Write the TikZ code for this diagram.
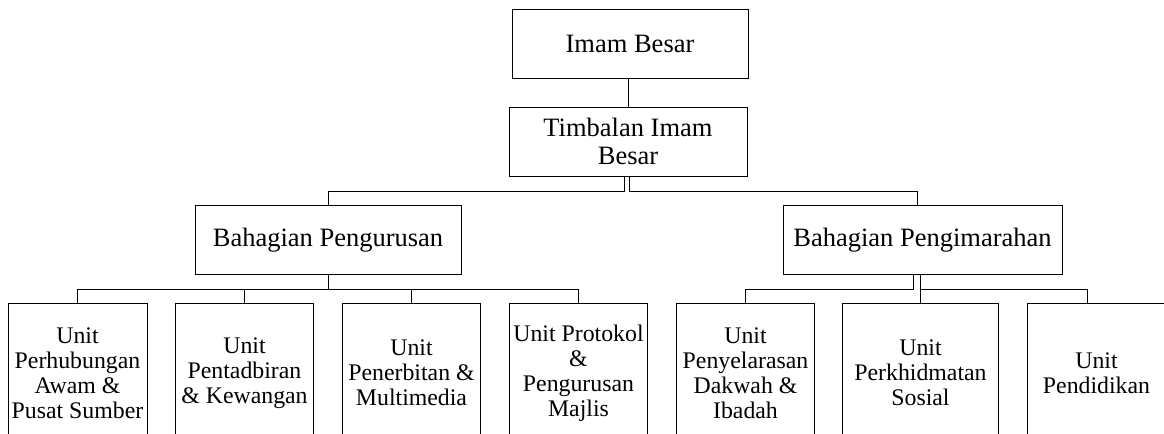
\documentclass[tikz,border=0pt]{standalone}
\usepackage{fontspec}
\setmainfont{Liberation Serif}
\newfontfamily\orgfont{Liberation Serif}
\usepackage{tikz}
\usetikzlibrary{calc}
\usetikzlibrary{positioning}

\begin{document}
\begin{tikzpicture}[x=1pt,y=1pt,-,node distance=83.5pt,line width=0.5pt]
	\tikzstyle{head}=[draw=black, fill=white, align=center, inner sep=1pt, minimum height=34.5pt, font=\orgfont\fontsize{13.25}{14.15}\selectfont]
	\tikzstyle{unit}=[draw=black, fill=white, align=center, inner sep=1pt, minimum width=69pt, minimum height=70pt, font=\orgfont\fontsize{11.9}{12.5}\selectfont]
	\useasboundingbox (0,0) rectangle (582,-217);
	\clip (0,0) rectangle (582,-217);
		% top
		\node[head, minimum width=118pt] (IB) at (315,-21.75) {Imam Besar};
		\node[head, minimum width=119pt, node distance=49pt] (TIB) [below of=IB, xshift=-1pt] {Timbalan Imam\\Besar};
		% bahagian
		\node[head, minimum width=133pt] (BP) at (164,-120) {Bahagian Pengurusan};
		\node[head, minimum width=139.5pt] (BPM) at (461.25,-120) {Bahagian Pengimarahan};
		% unit
		\node[unit, minimum width=69.5pt] (U1) at (38.75,-186.5) {Unit\\Perhubungan\\Awam \&\\Pusat Sumber};
		\node[unit] (U2) [right of=U1] {Unit\\Pentadbiran\\\& Kewangan};
		\node[unit] (U3) [right of=U2] {Unit\\Penerbitan \&\\Multimedia};
		\node[unit] (U4) [right of=U3] {Unit Protokol\\\&\\Pengurusan\\Majlis};
		\node[unit] (U5) [right of=U4] {Unit\\Penyelarasan\\Dakwah \&\\Ibadah};
		\node[unit, minimum width=78pt, node distance=87.5pt] (U6) [right of=U5] {Unit\\Perkhidmatan\\Sosial};
		\node[unit, node distance=88pt] (U7) [right of=U6] {Unit\\Pendidikan};
		\coordinate (busA) at (0,-95.5);
		\coordinate (busB) at (0,-144.5);
		% lines
		\draw (TIB.north) -- (TIB.north |- IB.south);
		\draw ([xshift=-2pt]TIB.south) -- ([xshift=-2pt]TIB.south |- busA) -| (BP.north);
		\draw ([xshift=0.5pt]TIB.south) -- ([xshift=0.5pt]TIB.south |- busA) -| ([xshift=-2.75pt]BPM.north);
		\draw (BP.south) -- (BP.south |- busB);
		\draw (U1.north) |- (U4.north |- busB) -- (U4.north);
		\draw (U2.north) -- (U2.north |- busB);
		\draw (U3.north) -- (U3.north |- busB);
		\draw ([xshift=-4.75pt]BPM.south) -- ([xshift=-4.75pt]BPM.south |- busB) -| (U5.north);
		\draw (U6.north) -- (U6.north |- BPM.south);
		\draw (U6.north |- busB) -| ([xshift=-4.5pt]U7.north);
\end{tikzpicture}
\end{document}
